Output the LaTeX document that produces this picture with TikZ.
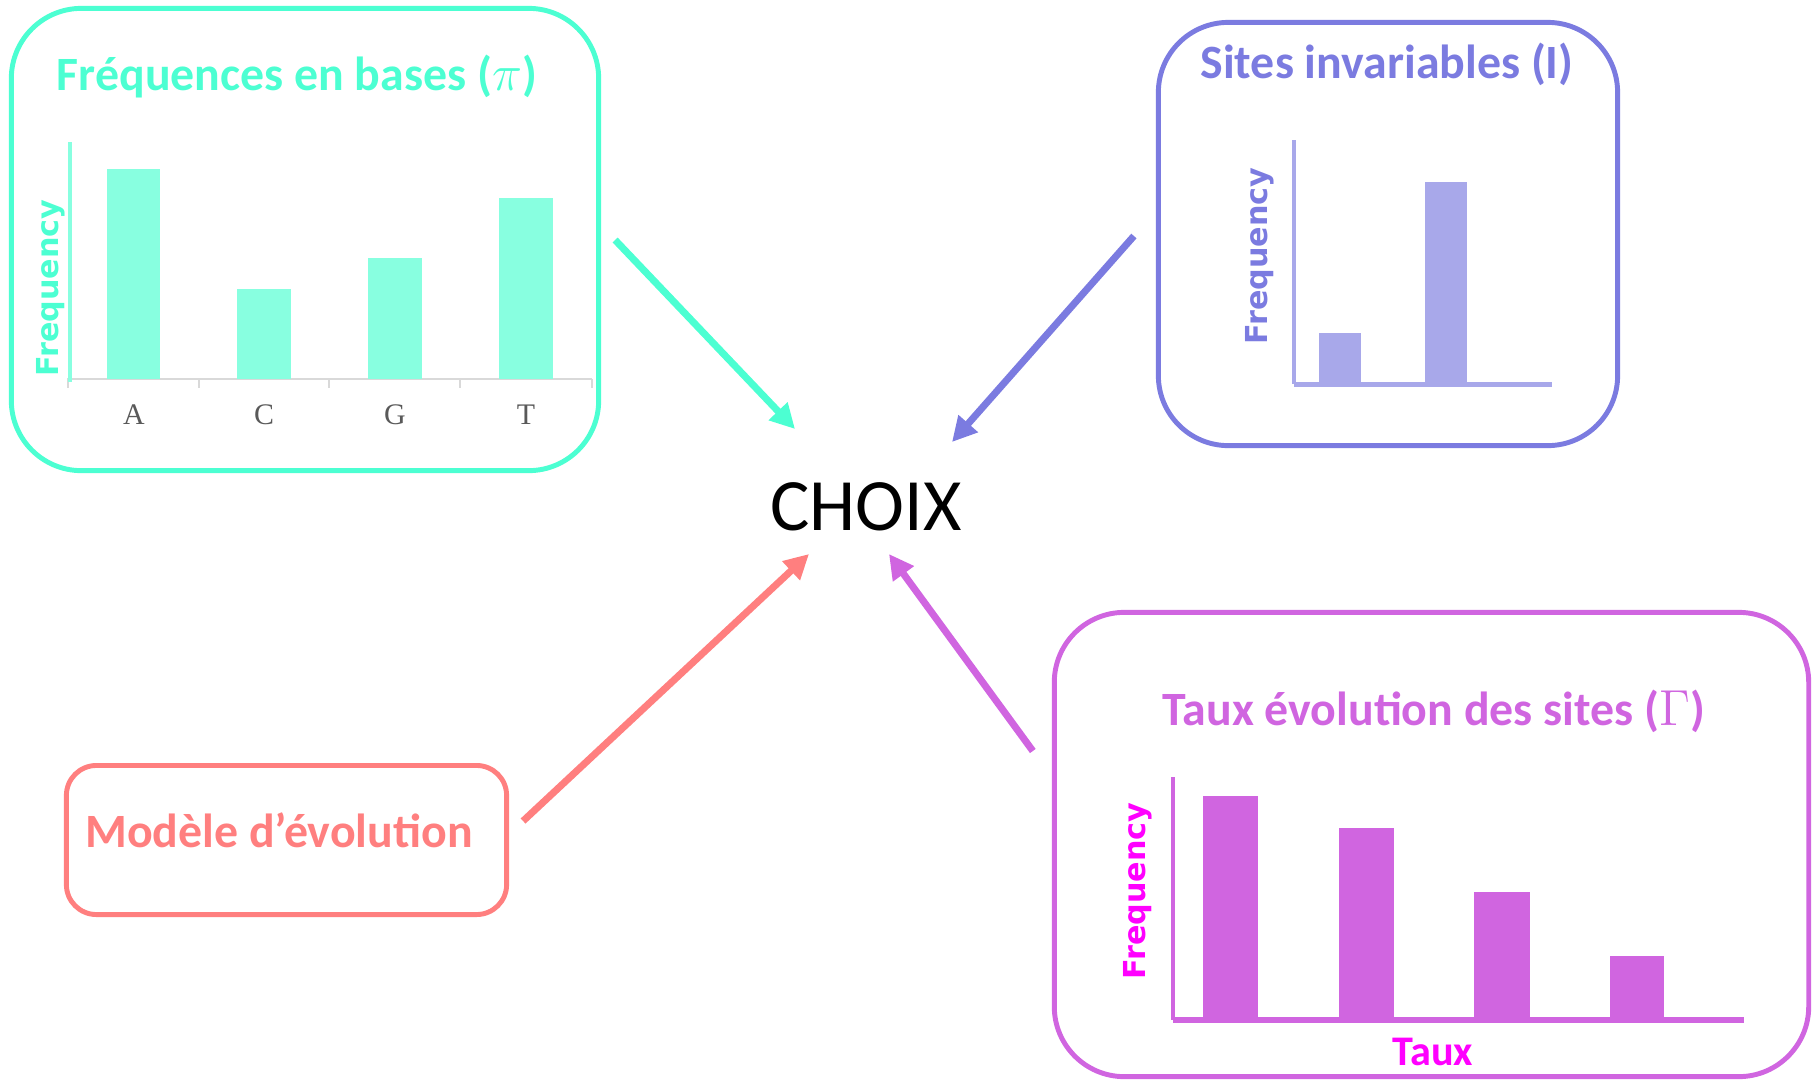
\documentclass[tikz,border=0pt]{standalone}
\usepackage{fontspec}
\setmainfont{Carlito}
\newfontfamily\freqfont{DejaVu Sans}
\newfontfamily\basefont{Liberation Serif}
\usetikzlibrary{arrows.meta}

\definecolor{turq}{RGB}{76,255,210}
\definecolor{turqbar}{RGB}{136,255,224}
\definecolor{lavande}{RGB}{123,123,224}
\definecolor{lavbar}{RGB}{168,168,234}
\definecolor{mauve}{RGB}{208,101,224}
\definecolor{saumon}{RGB}{255,127,127}
\definecolor{fuchsia}{RGB}{255,0,255}
\definecolor{gristxt}{RGB}{89,89,89}
\definecolor{grisaxe}{RGB}{217,217,217}

\tikzset{
  panel/.style={draw, line width=1.4pt, rounded corners=0.7cm},
  titre/.style={font=\fontsize{13.6}{16}\selectfont\bfseries, anchor=base},
  freq/.style={rotate=90, font=\freqfont\fontsize{8.6}{10}\selectfont\bfseries},
  base/.style={font=\basefont\fontsize{8.5}{10}\selectfont, color=gristxt},
  fleche/.style={line width=2pt, ->},
}

\begin{document}
\begin{tikzpicture}[x=0.01cm, y=-0.01cm, >={Triangle[length=7pt,width=7pt]}]
\useasboundingbox (0,0) rectangle (1820,1081);

% frequences en bases
\node[panel, color=turq, minimum width=5.87cm, minimum height=4.62cm] (pibox) at (305,239.5) {};
\node[titre, color=turq] (pititre) at (297,90) {Fréquences en bases ($\pi$)};
\draw[grisaxe, line width=0.5pt] (67,379) -- (592,379);
\foreach \x in {68,199,329,460,592}
  \draw[grisaxe, line width=0.5pt] (\x,379) -- (\x,388);
\fill[turqbar] (107,169) rectangle (160,379);
\fill[turqbar] (237,289) rectangle (291,379);
\fill[turqbar] (368,258) rectangle (422,379);
\fill[turqbar] (499,198) rectangle (553,379);
\draw[turqbar, line width=1.4pt] (70,142) -- (70,382);
\node[freq, color=turq] (pifreq) at (51,288) {Frequency};
\node[base] (la) at (134,415) {A};
\node[base] (lc) at (264,415) {C};
\node[base] (lg) at (395,415) {G};
\node[base] (lt) at (526,415) {T};

% sites invariables
\node[panel, color=lavande, minimum width=4.59cm, minimum height=4.23cm] (ibox) at (1388,234) {};
\node[titre, color=lavande] (ititre) at (1387,78) {Sites invariables (I)};
\fill[lavbar] (1319,333) rectangle (1361,384);
\fill[lavbar] (1425,182) rectangle (1467,384);
\draw[lavbar, line width=1.2pt] (1294,140) -- (1294,384);
\draw[lavbar, line width=1.7pt] (1294,384.5) -- (1552,384.5);
\node[freq, color=lavande] (ifreq) at (1260,256) {Frequency};

% taux d'evolution
\node[panel, color=mauve, minimum width=7.54cm, minimum height=4.64cm] (gbox) at (1431.5,844.5) {};
\node[titre, color=mauve] (gtitre) at (1434,725) {Taux évolution des sites ($\Gamma$)};
\fill[mauve] (1203,796) rectangle (1258,1018);
\fill[mauve] (1339,828) rectangle (1394,1018);
\fill[mauve] (1474,892) rectangle (1530,1018);
\fill[mauve] (1610,956) rectangle (1664,1018);
\draw[mauve, line width=1pt] (1173,777) -- (1173,1020);
\draw[mauve, line width=1.5pt] (1173,1020) -- (1744,1020);
\node[freq, color=fuchsia] (gfreq) at (1138,891) {Frequency};
\node[titre, font=\fontsize{12}{14}\selectfont\bfseries, color=fuchsia] (taux) at (1433,1065) {Taux};

% modele
\node[panel, color=saumon, rounded corners=0.3cm, minimum width=4.4cm, minimum height=1.49cm] (modbox) at (286.5,840) {};
\node[titre, color=saumon] (modele) at (279,847) {Modèle d’évolution};

\node[font=\fontsize{21}{25}\selectfont] (choix) at (866,507) {CHOIX};

\coordinate (pidep) at ([shift={(14,0.5)}]pibox.east);
\coordinate (pifin) at ([shift={(-71,-78)}]choix.center);
\coordinate (idep) at ([shift={(-22,2)}]ibox.west);
\coordinate (ifin) at ([shift={(86,-65)}]choix.center);
\coordinate (moddep) at ([shift={(14,-19)}]modbox.east);
\coordinate (modfin) at ([shift={(-57,47)}]choix.center);
\coordinate (gdep) at ([shift={(-19,-93.5)}]gbox.west);
\coordinate (gfin) at ([shift={(23,47)}]choix.center);

\draw[fleche, color=turq] (pidep) -- (pifin);
\draw[fleche, color=lavande] (idep) -- (ifin);
\draw[fleche, color=saumon] (moddep) -- (modfin);
\draw[fleche, color=mauve] (gdep) -- (gfin);
\end{tikzpicture}
\end{document}
